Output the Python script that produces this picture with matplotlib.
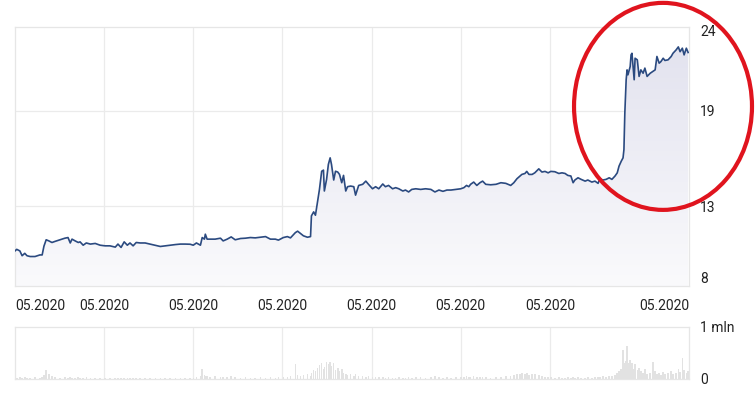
import matplotlib
matplotlib.use("Agg")
import matplotlib.pyplot as plt
import numpy as np
from matplotlib.colors import LinearSegmentedColormap
from matplotlib.patches import Ellipse

plt.rcParams['font.family'] = ['Roboto', 'DejaVu Sans']

# trading days since the start of the window
days = [
    0.0, 0.4, 1.1, 1.6, 2.2, 2.7, 3.4, 4.5, 5.6, 6.1,
    6.5, 7.0, 7.6, 8.3, 9.0, 10.1, 11.2, 11.9, 12.4, 12.8,
    13.5, 14.2, 14.6, 15.3, 16.0, 16.9, 18.0, 19.1, 20.2, 21.3,
    22.5, 23.1, 23.8, 24.5, 25.2, 25.8, 26.5, 27.2, 28.1, 29.2,
    30.3, 31.5, 32.6, 33.7, 34.8, 36.0, 37.1, 38.2, 39.3, 40.0,
    40.7, 41.6, 42.0, 42.5, 42.7, 43.1, 43.8, 44.9, 46.1, 46.7,
    47.6, 48.5, 49.4, 50.6, 51.7, 52.8, 53.9, 55.1, 56.2, 57.3,
    58.4, 59.1, 60.2, 61.1, 61.8, 62.9, 63.4, 64.0, 64.7, 65.6,
    66.3, 66.5, 67.0, 67.4, 67.9, 68.3, 68.8, 69.2, 69.4, 69.9,
    70.3, 70.7, 71.0, 71.5, 71.9, 72.4, 72.8, 73.3, 73.7, 74.2,
    74.6, 75.3, 76.0, 76.4, 77.1, 78.0, 78.7, 79.3, 80.2, 80.9,
    81.6, 82.5, 83.1, 83.8, 84.7, 85.4, 86.1, 87.0, 87.6, 88.3,
    89.0, 89.9, 91.0, 92.1, 93.3, 94.2, 95.1, 96.0, 96.9, 97.8,
    98.9, 100.0, 100.7, 101.3, 101.8, 102.2, 102.9, 103.6, 104.3, 104.9,
    105.6, 106.7, 107.9, 109.0, 110.1, 111.2, 111.9, 112.6, 113.3, 113.7,
    114.4, 114.8, 115.3, 116.0, 116.6, 117.5, 118.2, 118.9, 119.6, 120.2,
    121.1, 122.0, 122.7, 123.4, 124.0, 124.7, 125.2, 125.6, 126.3, 127.0,
    127.9, 128.5, 129.4, 130.1, 130.8, 131.2, 131.9, 132.6, 133.3, 133.9,
    134.6, 135.1, 135.5, 136.0, 136.4, 136.6, 136.8, 137.1, 137.3, 137.5,
    138.0, 138.2, 138.4, 138.9, 139.1, 139.6, 140.0, 140.4, 140.9, 141.3,
    141.8, 142.5, 143.1, 143.6, 144.0, 144.5, 144.9, 145.4, 145.8, 146.5,
    147.2, 147.6, 148.3, 148.8, 149.2, 149.7, 150.1, 150.6, 151.0,
]

price = [
    10.2, 10.3, 10.2, 9.9, 10.05, 9.9, 9.85, 9.85, 9.95, 9.95,
    10.5, 10.9, 10.83, 10.73, 10.8, 10.9, 11.0, 11.04, 10.7, 10.94,
    10.83, 10.73, 10.77, 10.56, 10.7, 10.63, 10.67, 10.56, 10.52, 10.52,
    10.44, 10.63, 10.42, 10.77, 10.56, 10.7, 10.52, 10.73, 10.7, 10.7,
    10.63, 10.56, 10.48, 10.52, 10.56, 10.6, 10.63, 10.63, 10.62, 10.56,
    10.7, 10.56, 11.04, 10.94, 11.25, 10.94, 10.94, 10.94, 11.0, 10.83,
    10.94, 11.08, 10.9, 10.98, 11.0, 11.04, 11.02, 11.06, 11.1, 10.94,
    10.94, 10.88, 11.04, 11.1, 11.02, 11.35, 11.44, 11.31, 11.15, 11.06,
    11.1, 12.4, 12.65, 12.44, 13.33, 14.06, 15.2, 15.27, 13.96, 14.69,
    15.63, 16.04, 15.63, 14.65, 15.2, 15.15, 15.0, 14.48, 14.94, 13.96,
    14.23, 14.27, 14.23, 13.7, 14.31, 14.38, 14.58, 14.38, 14.1, 14.23,
    14.1, 14.4, 14.23, 14.31, 14.1, 14.17, 14.1, 13.96, 14.02, 13.9,
    14.06, 14.1, 14.06, 14.1, 14.06, 13.9, 14.02, 13.94, 14.02, 14.02,
    14.06, 14.1, 14.17, 14.31, 14.23, 14.38, 14.52, 14.31, 14.48, 14.58,
    14.38, 14.35, 14.38, 14.48, 14.44, 14.31, 14.48, 14.73, 14.9, 15.0,
    15.06, 15.19, 15.0, 15.0, 15.1, 15.35, 15.15, 15.19, 15.1, 15.19,
    15.17, 15.06, 15.1, 15.06, 14.94, 14.9, 14.48, 14.65, 14.79, 14.69,
    14.58, 14.65, 14.52, 14.58, 14.44, 14.73, 14.65, 14.69, 14.79, 14.69,
    14.9, 15.1, 15.52, 15.83, 16.04, 16.56, 18.85, 20.94, 21.56, 21.25,
    21.77, 22.5, 22.6, 20.94, 22.29, 22.19, 21.15, 21.56, 21.35, 21.67,
    21.15, 21.35, 21.46, 21.56, 22.4, 21.98, 22.08, 22.29, 22.15, 22.19,
    22.4, 22.6, 22.81, 23.0, 22.7, 22.92, 22.5, 22.92, 22.65,
]

# volume in millions of shares
volume = [
    0.03, 0.02, 0.03, 0.02, 0.03, 0.02, 0.02, 0.03, 0.02, 0.04,
    0.08, 0.17, 0.1, 0.05, 0.03, 0.02, 0.03, 0.02, 0.03, 0.02,
    0.02, 0.03, 0.02, 0.02, 0.03, 0.02, 0.02, 0.01, 0.02, 0.02,
    0.02, 0.01, 0.02, 0.02, 0.01, 0.02, 0.02, 0.01, 0.02, 0.02,
    0.02, 0.01, 0.02, 0.01, 0.02, 0.02, 0.01, 0.02, 0.02, 0.02,
    0.03, 0.05, 0.19, 0.08, 0.06, 0.05, 0.04, 0.06, 0.04, 0.03,
    0.04, 0.05, 0.03, 0.02, 0.03, 0.02, 0.02, 0.03, 0.02, 0.03,
    0.02, 0.03, 0.04, 0.03, 0.05, 0.29, 0.08, 0.06, 0.07, 0.1,
    0.06, 0.12, 0.18, 0.15, 0.22, 0.26, 0.3, 0.2, 0.24, 0.33,
    0.28, 0.32, 0.25, 0.3, 0.18, 0.22, 0.15, 0.2, 0.12, 0.1,
    0.08, 0.1, 0.06, 0.09, 0.05, 0.06, 0.04, 0.05, 0.04, 0.03,
    0.03, 0.04, 0.02, 0.03, 0.02, 0.02, 0.03, 0.02, 0.02, 0.03,
    0.02, 0.03, 0.04, 0.02, 0.03, 0.05, 0.03, 0.02, 0.03, 0.02,
    0.03, 0.04, 0.03, 0.05, 0.03, 0.04, 0.05, 0.03, 0.04, 0.03,
    0.03, 0.02, 0.04, 0.03, 0.06, 0.05, 0.08, 0.1, 0.09, 0.11,
    0.1, 0.12, 0.08, 0.1, 0.09, 0.07, 0.06, 0.04, 0.03, 0.03,
    0.02, 0.03, 0.02, 0.02, 0.03, 0.02, 0.04, 0.02, 0.03, 0.02,
    0.02, 0.03, 0.02, 0.03, 0.04, 0.03, 0.05, 0.04, 0.06, 0.05,
    0.08, 0.12, 0.15, 0.2, 0.56, 0.3, 0.25, 0.35, 0.63, 0.3,
    0.37, 0.25, 0.3, 0.2, 0.28, 0.18, 0.22, 0.15, 0.12, 0.2,
    0.1, 0.12, 0.33, 0.15, 0.1, 0.12, 0.08, 0.14, 0.1, 0.12,
    0.15, 0.1, 0.12, 0.2, 0.14, 0.4, 0.18, 0.12, 0.15,
]

tick_days = [0, 20, 40, 60, 80, 100, 120, 151.2]
tick_labels = ["05.2020"] * len(tick_days)
grid_days = [20, 40, 60, 80, 100, 120]
price_ticks = [8, 13, 19, 24]
price_grid = [13, 19]

X_END = 151.2
Y_MIN, Y_MAX = 8, 24.25
GRID = "#ebebeb"
TEXT = "#222222"
LINE = "#2b4a80"

fig = plt.figure(figsize=(7.56, 3.94), dpi=100)
fig.patch.set_facecolor("white")

ax = fig.add_axes([0.0198, 0.2741, 0.8916, 0.6574])
axv = fig.add_axes([0.0198, 0.0381, 0.8916, 0.1320])

# price: gradient area + line
cmap = LinearSegmentedColormap.from_list("fade", ["#fafafc", "#e1e1ee"])
area = ax.fill_between(days, price, Y_MIN, facecolor="none", edgecolor="none")
grad = np.linspace(1, 0, 256).reshape(-1, 1)
im = ax.imshow(grad, cmap=cmap, aspect="auto", origin="upper",
               extent=[0, X_END, Y_MIN, Y_MAX], zorder=1)
im.set_clip_path(area.get_paths()[0], transform=ax.transData)
ax.plot(days, price, color=LINE, lw=1.2, zorder=3)

for d in grid_days:
    ax.axvline(d, color=GRID, lw=0.9, zorder=0)
for p in price_grid:
    ax.axhline(p, color=GRID, lw=0.9, zorder=0)

ax.set_xlim(0, X_END)
ax.set_ylim(Y_MIN, Y_MAX)
ax.set_xticks(tick_days)
ax.set_xticklabels(tick_labels)
ax.set_yticks(price_ticks)
ax.set_yticklabels([str(p) for p in price_ticks])
ax.yaxis.tick_right()
ax.tick_params(axis="both", length=0, labelsize=10, labelcolor=TEXT)
ax.tick_params(axis="x", pad=9)
ax.tick_params(axis="y", pad=8)
xl = ax.get_xticklabels()
xl[0].set_ha("left")
xl[-1].set_ha("right")
ax.get_yticklabels()[0].set_va("bottom")
for s in ax.spines.values():
    s.set_color("#e6e6e6")
    s.set_linewidth(0.9)

# volume panel
axv.bar(days, volume, width=0.35, color="#e2e2e2", zorder=2)
for d in grid_days:
    axv.axvline(d, color=GRID, lw=0.9, zorder=0)
axv.set_xlim(0, X_END)
axv.set_ylim(0, 1)
axv.set_xticks([])
axv.set_yticks([0, 1])
axv.set_yticklabels(["0", "1 mln"])
axv.yaxis.tick_right()
axv.tick_params(axis="y", length=0, labelsize=10, labelcolor=TEXT, pad=8)
for s in axv.spines.values():
    s.set_color("#e6e6e6")
    s.set_linewidth(0.9)

# red highlight around the jump
fig.add_artist(Ellipse((0.877, 0.730), 0.2354, 0.5254, transform=fig.transFigure,
                       fill=False, edgecolor="#e0141e", linewidth=3, zorder=10))

fig.savefig("out.png", dpi=100, facecolor="white")
